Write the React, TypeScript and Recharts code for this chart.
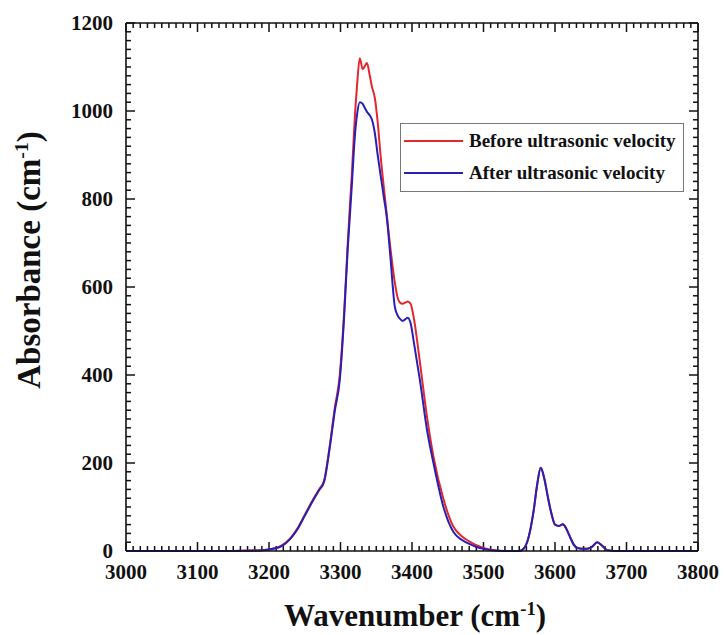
import { LineChart, Line, XAxis, YAxis, ReferenceLine } from "recharts";

// wavenumber (cm-1) and absorbance
const wavenumbers = [
  3000, 3050, 3100, 3150, 3180, 3197, 3215, 3230, 3240, 3250, 3262, 3270, 3277, 3285, 3292, 3299,
  3305, 3310, 3313, 3316, 3320, 3323, 3327, 3331, 3334, 3337, 3341, 3344, 3348, 3352, 3356, 3361,
  3365, 3369, 3376, 3380, 3383, 3387, 3391, 3394, 3398, 3403, 3411, 3421, 3430, 3444, 3458, 3470,
  3480, 3490, 3500, 3515, 3530, 3550, 3556, 3562, 3570, 3575, 3580, 3585, 3590, 3595, 3600, 3606,
  3611, 3616, 3621, 3626, 3631, 3638, 3645, 3652, 3659, 3666, 3673, 3690, 3750, 3800,
];
const before = [
  0, 0, 0, 0, 1, 3, 10, 29, 52, 82, 118, 140, 160, 240, 325, 400,
  540, 695, 780, 860, 985, 1055, 1120, 1095, 1102, 1109, 1080, 1055, 1030, 975, 900, 820,
  760, 700, 610, 575, 565, 562, 565, 567, 562, 525, 430, 305, 215, 118, 55, 33,
  22, 13, 7, 2, 0, 0, 5, 25, 90, 150, 189, 165, 123, 85, 60, 57,
  61, 50, 32, 15, 7, 5, 5, 10, 20, 12, 2, 0, 0, 0,
];
const after = [
  0, 0, 0, 0, 1, 3, 9, 28, 50, 80, 116, 138, 157, 235, 318, 389,
  530, 684, 759, 835, 941, 990, 1020, 1016, 1007, 998, 990, 980, 950, 900, 855, 800,
  755, 684, 555, 535, 528, 523, 527, 530, 518, 470, 389, 275, 200, 100, 43, 25,
  16, 9, 5, 1, 0, 0, 5, 25, 90, 150, 189, 165, 123, 85, 60, 57,
  61, 50, 32, 15, 7, 5, 5, 10, 20, 12, 2, 0, 0, 0,
];

const xMajor = [3000, 3100, 3200, 3300, 3400, 3500, 3600, 3700, 3800];
const yMajor = [0, 200, 400, 600, 800, 1000, 1200];
// minor ticks every 10 cm-1 on x and every 20 on y
const xMinor = Array.from({ length: 81 }, (_, i) => 3000 + i * 10);
const yMinor = Array.from({ length: 61 }, (_, i) => i * 20);

const data = wavenumbers.map((wn, i) => ({ wn, before: before[i], after: after[i] }));

const X0 = 3000, X1 = 3800, Y0 = 0, Y1 = 1200;
const PLOT_W = 572, PLOT_H = 528;
// tick lengths (px) expressed in data units
const xLen = (px: number) => (px * (X1 - X0)) / PLOT_W;
const yLen = (px: number) => (px * (Y1 - Y0)) / PLOT_H;

const FONT = "'Liberation Serif', 'Times New Roman', serif";
const RED = "#e0282e";
const BLUE = "#2a1fb4";
const INK = "#111";
const axisStroke = { stroke: INK, strokeWidth: 1.6 };

function BottomLabel({ x, y, payload }: any) {
  return (
    <text x={x} y={y + 28} textAnchor="middle" fontFamily={FONT} fontWeight={700} fontSize={21} fill={INK}>
      {payload.value}
    </text>
  );
}
function LeftLabel({ x, y, payload }: any) {
  return (
    <text x={x - 13} y={y + 7} textAnchor="end" fontFamily={FONT} fontWeight={700} fontSize={21} fill={INK}>
      {payload.value}
    </text>
  );
}

export default function App() {
  const tickMarks: any[] = [];
  xMinor.forEach((v) => {
    const major = v % 100 === 0;
    const ly = yLen(major ? 9 : 5);
    tickMarks.push(
      <ReferenceLine key={"b" + v} xAxisId="x" yAxisId="y" stroke={INK} strokeWidth={1.5}
        segment={[{ x: v, y: Y0 }, { x: v, y: Y0 + ly }]} />,
      <ReferenceLine key={"t" + v} xAxisId="x" yAxisId="y" stroke={INK} strokeWidth={1.5}
        segment={[{ x: v, y: Y1 }, { x: v, y: Y1 - ly }]} />
    );
  });
  yMinor.forEach((v) => {
    const major = v % 200 === 0;
    const lx = xLen(major ? 9 : 5);
    tickMarks.push(
      <ReferenceLine key={"l" + v} xAxisId="x" yAxisId="y" stroke={INK} strokeWidth={1.5}
        segment={[{ x: X0, y: v }, { x: X0 + lx, y: v }]} />,
      <ReferenceLine key={"r" + v} xAxisId="x" yAxisId="y" stroke={INK} strokeWidth={1.5}
        segment={[{ x: X1, y: v }, { x: X1 - lx, y: v }]} />
    );
  });

  return (
    <div style={{ position: "absolute", left: 0, top: 0, width: 724, height: 635, background: "#fff", fontFamily: FONT }}>
      <LineChart
        width={724}
        height={635}
        data={data}
        margin={{ top: 22, right: 25, bottom: 83, left: 125 }}
      >
        <XAxis xAxisId="x" dataKey="wn" type="number" domain={[X0, X1]} ticks={xMajor}
          interval={0} height={1} tickSize={0} tickMargin={0} tickLine={false}
          tick={<BottomLabel />} axisLine={axisStroke} />
        <XAxis xAxisId="top" orientation="top" dataKey="wn" type="number" domain={[X0, X1]} ticks={xMajor}
          height={1} tick={false} tickLine={false} axisLine={axisStroke} />
        <YAxis yAxisId="y" type="number" domain={[Y0, Y1]} ticks={yMajor}
          interval={0} width={1} tickSize={0} tickMargin={0} tickLine={false}
          tick={<LeftLabel />} axisLine={axisStroke} />
        <YAxis yAxisId="right" orientation="right" type="number" domain={[Y0, Y1]} ticks={yMajor}
          width={1} tick={false} tickLine={false} axisLine={axisStroke} />

        {tickMarks}

        <Line xAxisId="x" yAxisId="y" type="monotone" dataKey="before" stroke={RED} strokeWidth={2}
          dot={false} isAnimationActive={false} />
        <Line xAxisId="x" yAxisId="y" type="monotone" dataKey="after" stroke={BLUE} strokeWidth={2}
          dot={false} isAnimationActive={false} />
      </LineChart>

      {/* legend */}
      <div style={{
        position: "absolute", left: 400, top: 123, width: 282, height: 67,
        border: "1px solid #777", background: "#fff", fontFamily: FONT,
        fontWeight: 700, fontSize: 19, color: INK,
      }}>
        {[{ label: "Before ultrasonic velocity", color: RED, top: 6 },
          { label: "After ultrasonic velocity", color: BLUE, top: 38 }].map((r) => (
          <div key={r.label} style={{ position: "absolute", left: 3, top: r.top, display: "flex", alignItems: "center", height: 22 }}>
            <div style={{ width: 59, height: 2, background: r.color }} />
            <span style={{ marginLeft: 6, whiteSpace: "nowrap" }}>{r.label}</span>
          </div>
        ))}
      </div>

      {/* axis titles */}
      <div style={{
        position: "absolute", left: 250, top: 600, width: 330, textAlign: "center", lineHeight: 1,
        fontFamily: FONT, fontWeight: 700, fontSize: 31, color: INK, whiteSpace: "nowrap",
      }}>
        Wavenumber (cm<sup style={{ fontSize: "0.6em", lineHeight: 0 }}>-1</sup>)
      </div>
      <div style={{ position: "absolute", left: 29, top: 260, width: 0, height: 0 }}>
        <div style={{
          position: "absolute", left: 0, top: 0, transform: "translate(-50%, -50%) rotate(-90deg)",
          fontFamily: FONT, fontWeight: 700, fontSize: 33, color: INK, whiteSpace: "nowrap", lineHeight: 1,
        }}>
          Absorbance (cm<sup style={{ fontSize: "0.6em", lineHeight: 0 }}>-1</sup>)
        </div>
      </div>
    </div>
  );
}
